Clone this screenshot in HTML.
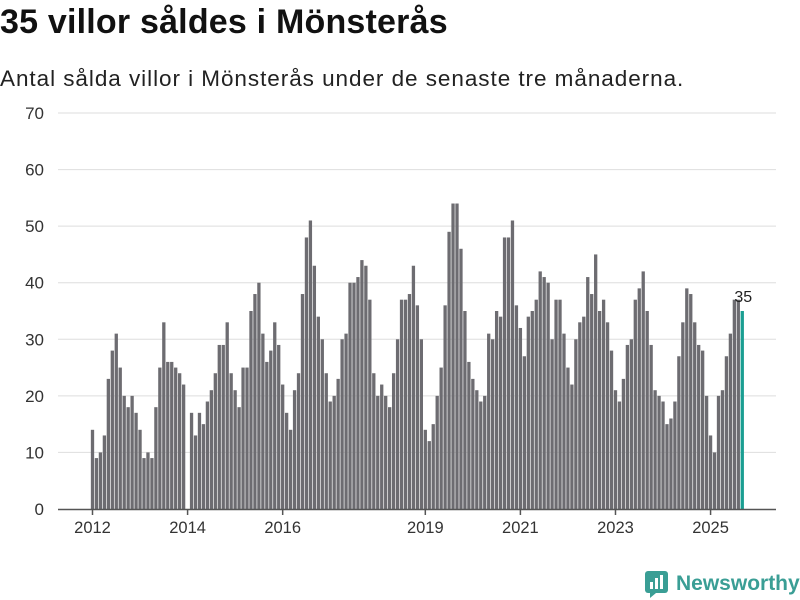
<!DOCTYPE html>
<html><head><meta charset="utf-8"><style>
body{margin:0;background:#fff;width:800px;height:600px;overflow:hidden;font-family:"Liberation Sans",sans-serif;}
#title{position:absolute;left:0;top:3px;font-size:34px;font-weight:bold;color:#111;margin:0;letter-spacing:0.2px}
#sub{position:absolute;left:0;top:66px;font-size:22.5px;color:#222;letter-spacing:0.95px}
svg{position:absolute;left:0;top:0}
</style></head><body>
<h1 id="title">35 villor såldes i Mönsterås</h1>
<div id="sub">Antal sålda villor i Mönsterås under de senaste tre månaderna.</div>
<svg id="chart" width="800" height="600">
<g id="grid"></g>
<g id="bars"></g>
<g id="axis"></g>
<g>
<rect x="645" y="571" width="23" height="22" rx="3" fill="#3a9e95"/>
<rect x="650" y="582" width="3" height="7" fill="#fff"/><rect x="655" y="578" width="3" height="11" fill="#fff"/><rect x="660" y="575" width="3" height="14" fill="#fff"/>
<polygon points="650,593 656,593 650,598" fill="#3a9e95"/>
<text x="676" y="590" font-size="21" font-weight="bold" fill="#3a9e95" font-family="Liberation Sans, sans-serif">Newsworthy</text>
</g>
</svg>
<script>
const values = [14,9,10,13,23,28,31,25,20,18,20,17, 14,9,10,9,18,25,33,26,26,25,24,22,
null,17,13,17,15,19,21,24,29,
29,33,24,21,18,25,25,35,38,40,31,26,28,33,29,22,17,14,21,24,38,48,51,43,34,30,24,19,20,23,30,31,40,40,41,
44,43,37,24,20,22,20,18,24,30,37,37,38,43,36,30,14,12,15,20,25,36,49,54,54,46,35,26,23,21,19,20,31,30,
35,34,48,48,51,36,32,27,34,35,37,42,41,40,30,37,37,31,25,22,30,33,34,41,38,45,35,37,33,28,21,19,23,29,
30,37,39,42,35,29,21,20,19,15,16,19,27,33,39,38,33,29,28,20,13,10,20,21,27,31,37,37,35];
const yTicks = [0,10,20,30,40,50,60,70];
const xTickLabels = ["2012","2014","2016","2019","2021","2023","2025"];
const xTickMonths = [0,24,48,84,108,132,156];
const NS="http://www.w3.org/2000/svg";
const y0=509, yTop=113, yMax=70, xStart=92.5, pitch=3.962;
const Y=v=>y0-(v/yMax)*(y0-yTop);
const X=i=>xStart+i*pitch;
function mk(tag,attrs,parent){const e=document.createElementNS(NS,tag);for(const k in attrs)e.setAttribute(k,attrs[k]);parent.appendChild(e);return e;}
const grid=document.getElementById('grid'),bars=document.getElementById('bars'),axis=document.getElementById('axis');
yTicks.forEach(t=>{
  if(t>0){const l=mk('line',{x1:58,x2:776,y1:Y(t),y2:Y(t),stroke:'#dedede','stroke-width':1},grid);
  
  }
  const tx=mk('text',{x:44,y:Y(t)+6,'text-anchor':'end','font-size':17,fill:'#333'},axis);
  tx.textContent=t;
  
  
});
values.forEach((v,i)=>{
  if(v==null)return;
  const last=i===values.length-1;
  const r=mk('rect',{x:X(i)-1.65,y:Y(v),width:3.3,height:y0-Y(v),fill:last?'#1a9e92':'#6d6c71'},bars);
  
  
  if(last){const t=mk('text',{x:X(i)+1,y:Y(v)-9,'text-anchor':'middle','font-size':16,fill:'#222'},bars);
  t.textContent=v;
  
  }
});
const ax=mk('line',{x1:58,x2:776,y1:y0+0.5,y2:y0+0.5,stroke:'#555','stroke-width':1.5},axis);


xTickMonths.forEach((m,k)=>{
  mk('line',{x1:X(m),x2:X(m),y1:y0,y2:y0+6,stroke:'#555','stroke-width':1.5},axis);
  const t=mk('text',{x:X(m),y:y0+24,'text-anchor':'middle','font-size':16.5,fill:'#333'},axis);
  t.textContent=xTickLabels[k];
  
  
});
</script>
</body></html>
